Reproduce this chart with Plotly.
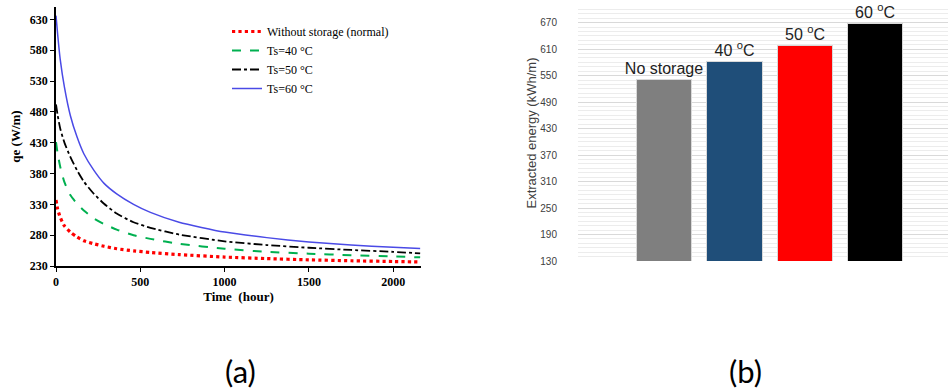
import plotly.graph_objects as go

# ---- Data: panel (a) heat extraction rate ----
time_h = [0, 10, 25, 50, 85, 125, 165, 225, 285, 360, 460, 560, 730, 1000, 1250, 1500, 1750, 2000, 2160]
q_normal = [337, 322, 309, 295, 285, 277, 271, 266, 262, 258, 254.5, 252, 248.5, 244.5, 242, 240, 238.5, 237.3, 236.5]
q_ts40 = [431, 412, 391, 366, 345, 331, 320, 307, 298, 289, 280, 274, 266, 258, 253, 250, 247.5, 245.5, 244]
q_ts50 = [492, 474, 453, 430, 407, 385, 367, 347, 331, 315, 301, 292, 281, 270, 264, 259.6, 256, 253, 250.5]
q_ts60 = [636, 605, 565, 520, 474, 439, 412, 385, 364, 347, 330, 317, 301, 285, 276, 269, 264, 260.5, 258.5]

series_names = ["Without storage (normal)", "Ts=40 °C", "Ts=50 °C", "Ts=60 °C"]

# ---- Data: panel (b) extracted energy ----
bar_labels = ["No storage", "40 <sup>o</sup>C", "50 <sup>o</sup>C", "60 <sup>o</sup>C"]
bar_values = [540, 581, 616, 668]
bar_colors = ["#7F7F7F", "#1F4E79", "#FF0000", "#000000"]

W, H = 948, 389

def px_x(x):
    return x / W

def px_y(y):
    return 1 - y / H

fig = go.Figure()

styles = [
    dict(color="#FF0000", dash="dot", width=3.2),
    dict(color="#00B050", dash="dash", width=2),
    dict(color="#000000", dash="dashdot", width=1.8),
    dict(color="#4A4AE6", dash="solid", width=1.5),
]
for name, ys, st in zip(series_names, [q_normal, q_ts40, q_ts50, q_ts60], styles):
    fig.add_trace(go.Scatter(
        x=time_h, y=ys, name=name, mode="lines",
        line=dict(shape="spline", smoothing=0.6, **st),
        xaxis="x", yaxis="y", showlegend=True,
    ))

xpos = list(range(len(bar_values)))
fig.add_trace(go.Bar(
    x=xpos, y=bar_values,
    marker=dict(color=bar_colors, line=dict(color="#D9D9D9", width=1)),
    width=0.786, text=bar_labels, textposition="outside", constraintext="none",
    textfont=dict(family="Liberation Sans, Arial", size=16, color="#222222"),
    cliponaxis=False, xaxis="x2", yaxis="y2", showlegend=False,
))

serif = "Liberation Serif, Times New Roman, serif"
sans = "Liberation Sans, Arial, sans-serif"

fig.update_layout(
    width=W, height=H,
    margin=dict(l=0, r=0, t=0, b=0, autoexpand=False),
    paper_bgcolor="white", plot_bgcolor="white",
    bargap=0,
    xaxis=dict(
        domain=[px_x(56), px_x(421)], range=[0, 2165], automargin=False,
        tickmode="array", tickvals=[0, 500, 1000, 1500, 2000],
        showline=True, linecolor="black", linewidth=1.5,
        ticks="outside", ticklen=4, tickcolor="black",
        showgrid=False, zeroline=False,
        tickfont=dict(family=serif, size=12, color="black", weight="bold"),
        title=dict(text="<b>Time  (hour)</b>", font=dict(family=serif, size=13, color="black"), standoff=4),
    ),
    yaxis=dict(
        domain=[px_y(266), px_y(7)], range=[230, 650], automargin=False,
        tickmode="array", tickvals=[230, 280, 330, 380, 430, 480, 530, 580, 630],
        showline=True, linecolor="black", linewidth=1.5,
        ticks="outside", ticklen=4, tickcolor="black",
        showgrid=False, zeroline=False,
        tickfont=dict(family=serif, size=12, color="black", weight="bold"),
        title=dict(text="<b>qe (W/m)</b>", font=dict(family=serif, size=13, color="black"), standoff=6),
    ),
    xaxis2=dict(
        domain=[px_x(578), 1.0], range=[-1.24, 4.04], automargin=False,
        showticklabels=False, showgrid=False, zeroline=False, showline=False,
        anchor="y2",
    ),
    yaxis2=dict(
        domain=[px_y(261), px_y(5)], range=[130, 710], automargin=False,
        tick0=130, dtick=60, anchor="x2",
        showgrid=True, gridcolor="#D9D9D9", gridwidth=1,
        minor=dict(dtick=10, showgrid=True, gridcolor="#ECECEC", gridwidth=1),
        zeroline=False, showline=False,
        tickfont=dict(family=sans, size=10, color="#404040"),
        ticklabelstandoff=20,
        title=dict(text="Extracted energy (kWh/m)", font=dict(family=sans, size=13, color="#404040"), standoff=0),
    ),
    legend=dict(
        x=px_x(227), y=px_y(17), xanchor="left", yanchor="top",
        bgcolor="rgba(0,0,0,0)", borderwidth=0,
        font=dict(family=serif, size=12, color="black"),
        itemwidth=30, tracegroupgap=0,
    ),
    annotations=[
        dict(text="(a)", x=px_x(240), y=px_y(371), xref="paper", yref="paper",
             xanchor="center", yanchor="middle",
             showarrow=False, font=dict(family="Lato, Noto Sans, sans-serif", size=31, color="black")),
        dict(text="(b)", x=px_x(745), y=px_y(371), xref="paper", yref="paper",
             xanchor="center", yanchor="middle",
             showarrow=False, font=dict(family="Lato, Noto Sans, sans-serif", size=31, color="black")),
    ],
)

fig.write_html("out.html", config={"displayModeBar": False},
               post_script="document.body.style.margin='0';")
